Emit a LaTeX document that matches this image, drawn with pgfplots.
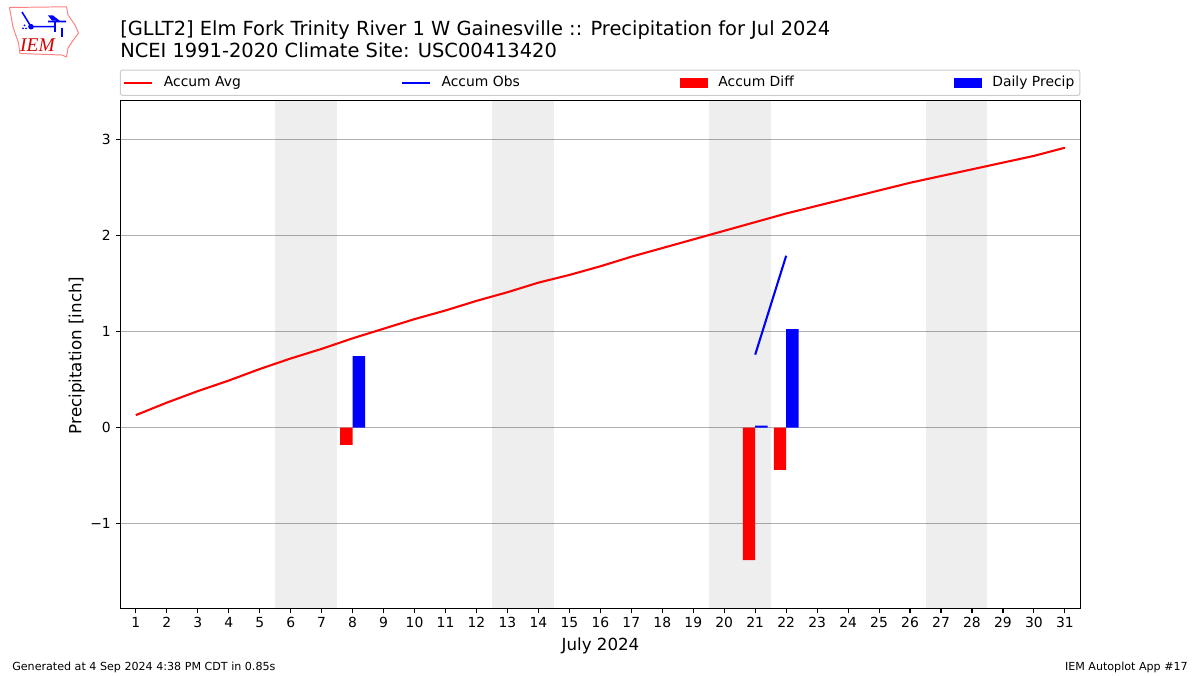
\documentclass[border=0pt]{standalone}
\usepackage{pgfplots}
\usepackage{pgfplotstable}
\usepackage{fontspec}
\pgfplotsset{compat=1.18}
\setmainfont{DejaVu Sans}
\newfontfamily\serifit[ItalicFont=Liberation Serif Italic]{Liberation Serif}
\definecolor{gridc}{HTML}{B0B0B0}
\newcommand{\fs}[1]{\fontsize{#1bp}{#1bp}\selectfont}
\pgfplotstableread{
day avg
1 0.13
2 0.26
3 0.38
4 0.49
5 0.61
6 0.72
7 0.82
8 0.93
9 1.03
10 1.13
11 1.22
12 1.32
13 1.41
14 1.51
15 1.59
16 1.68
17 1.78
18 1.87
19 1.96
20 2.05
21 2.14
22 2.23
23 2.31
24 2.39
25 2.47
26 2.55
27 2.62
28 2.69
29 2.76
30 2.83
31 2.915
}\avgtable
\pgfplotstableread{
day obs
21 0.76
22 1.79
}\obstable
\pgfplotstableread{
day diff
8 -0.18
21 -1.38
22 -0.44
}\difftable
\pgfplotstableread{
day precip
8 0.745
21 0.02
22 1.025
}\preciptable
\begin{document}
\begin{tikzpicture}[x=0.72bp,y=-0.72bp]
\useasboundingbox (0,0) rectangle (1200,675);
\coordinate (o) at (120.5,608.5);
\begin{axis}[
  at={(o)}, anchor=south west,
  scale only axis,
  width=691.2bp, height=365.76bp,
  xmin=0.505, xmax=31.505, ymin=-1.884, ymax=3.407,
  xtick={1,2,...,31},
  ytick={-1,0,1,2,3},
  yticklabels={−1,0,1,2,3},
  tick align=outside,
  tick pos=left,
  major tick length=3.5bp,
  tick style={black,line width=0.8bp},
  axis line style={black,line width=0.8bp},
  ymajorgrids,
  y grid style={gridc,line width=0.8bp},
  tick label style={font=\fs{10}},
  /pgf/number format/assume math mode=true,
  xticklabel style={yshift=0.6bp},
  xlabel={July 2024},
  ylabel={Precipitation [inch]},
  label style={font=\fs{12}},
  ylabel style={yshift=-2.9bp,xshift=-0.7bp},
  legend columns=4,
  legend cell align=left,
  legend style={
    at={(0,1)}, anchor=south west, yshift=3.3bp, xshift=-0.4bp,
    draw=black!20, rounded corners=1.5bp, line width=0.7bp,
    font=\fs{10},
    inner xsep=2.0bp, inner ysep=2.6bp,
    /tikz/every odd column/.style={column sep=5.8bp},
    /tikz/every even column/.style={column sep=113.2bp},
  },
]
\addplot[forget plot,draw=none,fill=black,fill opacity=0.067] coordinates {(5.5,-3)(7.5,-3)(7.5,4)(5.5,4)} -- cycle;
\addplot[forget plot,draw=none,fill=black,fill opacity=0.067] coordinates {(12.5,-3)(14.5,-3)(14.5,4)(12.5,4)} -- cycle;
\addplot[forget plot,draw=none,fill=black,fill opacity=0.067] coordinates {(19.5,-3)(21.5,-3)(21.5,4)(19.5,4)} -- cycle;
\addplot[forget plot,draw=none,fill=black,fill opacity=0.067] coordinates {(26.5,-3)(28.5,-3)(28.5,4)(26.5,4)} -- cycle;
\addplot[red,line width=1.5bp,no marks,
  legend image code/.code={\draw[red,line width=1.5bp,sharp corners] (0pt,0pt)--(20bp,0pt);}]
  table[x=day,y=avg] {\avgtable};
\addlegendentry{Accum Avg}
\addplot[blue,line width=1.5bp,no marks,
  legend image code/.code={\draw[blue,line width=1.5bp,sharp corners] (0pt,0pt)--(20bp,0pt);}]
  table[x=day,y=obs] {\obstable};
\addlegendentry{Accum Obs}
\addplot[ybar,bar width=0.4,bar shift=-0.2,draw=none,fill=red,
  legend image code/.code={\fill[red,sharp corners] (0pt,-3.5bp) rectangle (20bp,3.5bp);}]
  table[x=day,y=diff] {\difftable};
\addlegendentry{Accum Diff}
\addplot[ybar,bar width=0.4,bar shift=0.2,draw=none,fill=blue,
  legend image code/.code={\fill[blue,sharp corners] (0pt,-3.5bp) rectangle (20bp,3.5bp);}]
  table[x=day,y=precip] {\preciptable};
\addlegendentry{Daily Precip}
\end{axis}
% titles
\node[anchor=base west,inner sep=0pt,font=\fs{14}] at (120,35.5) {[GLLT2] Elm Fork Trinity River 1 W Gainesville :: Precipitation for Jul 2024};
\node[anchor=base west,inner sep=0pt,font=\fs{14}] at (120,57.5) {NCEI 1991-2020 Climate Site: USC00413420};
\node[anchor=base west,inner sep=0pt,font=\fs{8}] at (12,670) {Generated at 4 Sep 2024 4:38 PM CDT in 0.85s};
\node[anchor=base east,inner sep=0pt,font=\fs{8}] at (1188,670) {IEM Autoplot App \#17};
% logo
\draw[red!50!white,line width=0.7bp,line join=round]
 (9.5,7.5)--(66.5,6.8)--(68,15)--(75,25)--(78.5,33)--(72,42)--(68,48)--(66.5,57)--(62,55)--(20,53.5)--(18.5,43)--(13,27)--cycle;
\draw[blue,line width=1.1bp] (31,26.7)--(55,26.7) (22,12)--(30,25) (48,21.5)--(66,21.5) (55,21.5)--(55,32) (62,28)--(62,37);
\fill[blue] (31,26.7) circle (2.8);
\fill[blue] (48,15.5)--(53,15.5)--(60,21)--(52,20.5)--cycle;
\fill[blue] (23,28.5) circle (1) (26,28.5) circle (1) (24.5,25.5) circle (1);
\node[inner sep=0pt,text=red!85!black,font=\serifit\itshape\fs{14}] at (37.5,45) {IEM};
\end{tikzpicture}
\end{document}
